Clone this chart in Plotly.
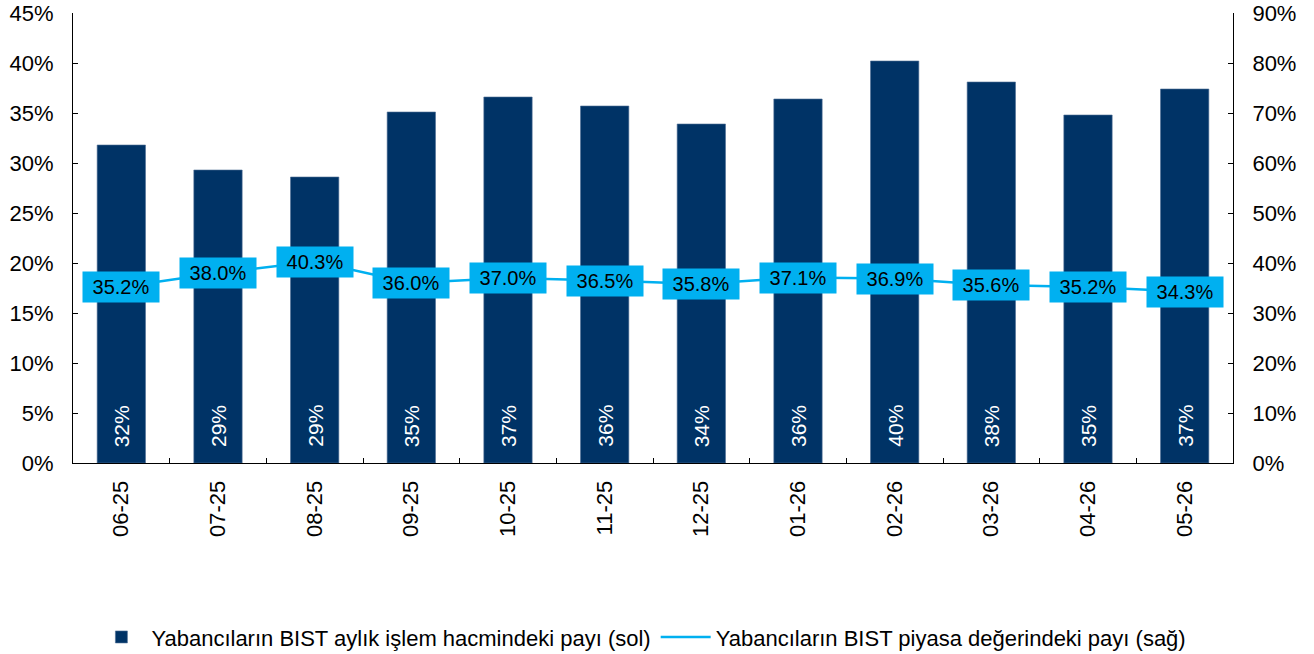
import plotly.graph_objects as go

categories = ["06-25", "07-25", "08-25", "09-25", "10-25", "11-25",
              "12-25", "01-26", "02-26", "03-26", "04-26", "05-26"]
volume_share = [31.8, 29.3, 28.6, 35.1, 36.6, 35.7, 33.9, 36.4, 40.2, 38.1, 34.8, 37.4]
mcap_share = [35.2, 38.0, 40.3, 36.0, 37.0, 36.5, 35.8, 37.1, 36.9, 35.6, 35.2, 34.3]

bar_name = "Yabancıların BIST aylık işlem hacmindeki payı (sol)"
line_name = "Yabancıların BIST piyasa değerindeki payı (sağ)"

NAVY = "#003366"
CYAN = "#00B0F0"
FONT = "Liberation Sans, Arial, sans-serif"

fig = go.Figure()
fig.add_trace(go.Bar(
    x=categories, y=volume_share, name=bar_name,
    marker=dict(color=NAVY, line=dict(color="#4f6f96", width=0.6)),
    yaxis="y",
))
fig.add_trace(go.Scatter(
    x=categories, y=mcap_share, name=line_name, mode="lines",
    line=dict(color=CYAN, width=2.5), yaxis="y2",
))

annotations = []
for c, v in zip(categories, volume_share):
    annotations.append(dict(
        x=c, y=0, xref="x", yref="y", yanchor="bottom", xanchor="center",
        yshift=14, text=f"{round(v):.0f}%", textangle=-90, showarrow=False,
        font=dict(family=FONT, size=21, color="white"),
    ))
for c, v in zip(categories, mcap_share):
    annotations.append(dict(
        x=c, y=v, xref="x", yref="y2", xanchor="center", yanchor="middle",
        text=f"\u00a0{v:.1f}%\u00a0", showarrow=False, bgcolor=CYAN, borderpad=4,
        font=dict(family=FONT, size=20, color="black"),
    ))

fig.update_layout(
    width=1314, height=654,
    margin=dict(l=73, r=81, t=13, b=191, autoexpand=False),
    paper_bgcolor="white", plot_bgcolor="white",
    font=dict(family=FONT, size=22, color="black"),
    bargap=0.5,
    showlegend=True,
    legend=dict(orientation="h", x=0.49, xanchor="center", y=-0.387, yanchor="middle",
                font=dict(family=FONT, size=22, color="black"),
                itemwidth=50, tracegroupgap=0),
    xaxis=dict(
        type="category", showline=True, linecolor="black", linewidth=1,
        ticks="inside", ticklen=5, tickcolor="black", tickson="boundaries",
        tickangle=-90, tickfont=dict(size=22), showgrid=False,
        ticklabelstandoff=8, automargin=False,
    ),
    yaxis=dict(
        range=[0, 45], dtick=5, ticksuffix="%", showline=True, linecolor="black",
        linewidth=1, ticks="inside", ticklen=5, tickcolor="black", showgrid=False,
        zeroline=False, tickfont=dict(size=22), ticklabelstandoff=14, automargin=False,
        ticklabeloverflow="allow",
    ),
    yaxis2=dict(
        range=[0, 90], dtick=10, ticksuffix="%", overlaying="y", side="right",
        showline=True, linecolor="black", linewidth=1, ticks="inside", ticklen=5,
        tickcolor="black", showgrid=False, zeroline=False, tickfont=dict(size=22),
        ticklabelstandoff=14, automargin=False, ticklabeloverflow="allow",
    ),
    annotations=annotations,
)

fig.write_html(
    "out.html",
    config={"displayModeBar": False},
    post_script="document.body.style.margin='0';document.body.style.overflow='hidden';",
)
